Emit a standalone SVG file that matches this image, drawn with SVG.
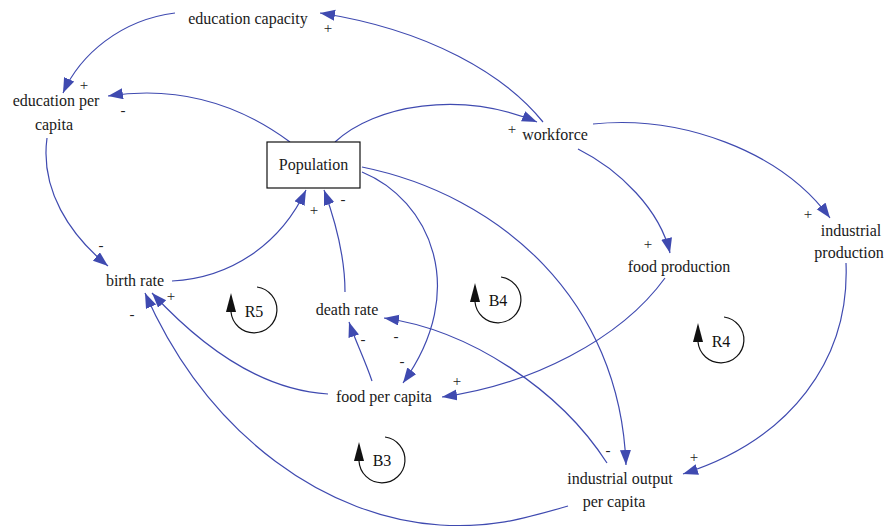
<svg xmlns="http://www.w3.org/2000/svg" width="896" height="526" viewBox="0 0 896 526">
  <defs>
    <marker id="arrow" markerUnits="userSpaceOnUse" markerWidth="16" markerHeight="12" refX="15" refY="5.5" orient="auto">
      <path d="M0,0 L15,5.5 L0,11 z" fill="#3f4ab0"/>
    </marker>
  </defs>
  <rect width="896" height="526" fill="#ffffff"/>

  <!-- causal links -->
  <g id="connectors" fill="none" stroke="#3f4ab0" stroke-width="1.2" marker-end="url(#arrow)">
    <path d="M543,122 C505,75 430,30 320,13"/>
    <path d="M175,13 C120,20 80,55 63,93"/>
    <path d="M290,142 C240,105 180,85 108,96"/>
    <path d="M335,142 C375,105 460,90 537,122"/>
    <path d="M47,138 C40,190 70,235 108,266"/>
    <path d="M172,281 C230,278 280,245 306,190"/>
    <path d="M345,292 C345,255 335,220 324,190"/>
    <path d="M362,172 C430,200 470,290 403,383"/>
    <path d="M362,167 C500,195 620,300 626,465"/>
    <path d="M607,463 C560,390 470,330 384,318"/>
    <path d="M372,381 C365,360 355,340 349,322"/>
    <path d="M328,394 C260,390 200,345 152,293"/>
    <path d="M568,506 C520,520 490,528 440,525 C330,518 210,440 145,293"/>
    <path d="M578,149 C620,170 660,210 670,253"/>
    <path d="M593,124 C680,115 780,150 830,218"/>
    <path d="M665,278 C620,340 530,385 442,397"/>
    <path d="M846,263 C850,360 790,440 683,474"/>
  </g>

  <!-- polarity signs -->
  <g id="signs" font-family="Liberation Serif, serif" font-size="15px" fill="#222222" text-anchor="middle">
    <text x="328" y="33">+</text>
    <text x="84" y="90">+</text>
    <text x="123" y="115">-</text>
    <text x="512" y="134">+</text>
    <text x="101" y="250">-</text>
    <text x="314" y="215">+</text>
    <text x="343" y="204">-</text>
    <text x="402" y="366">-</text>
    <text x="608" y="455">-</text>
    <text x="396" y="341">-</text>
    <text x="363" y="344">-</text>
    <text x="171" y="301">+</text>
    <text x="132" y="319">-</text>
    <text x="648" y="249">+</text>
    <text x="808" y="219">+</text>
    <text x="457" y="386">+</text>
    <text x="694" y="462">+</text>
  </g>

  <!-- variables -->
  <g id="nodes" font-family="Liberation Serif, serif" font-size="16px" fill="#1a1a1a" text-anchor="middle">
    <g id="education-capacity"><text x="248" y="24">education capacity</text></g>
    <g id="education-per-capita">
      <text x="56" y="106">education per</text>
      <text x="54" y="130">capita</text>
    </g>
    <g id="population">
      <rect x="267" y="142" width="93" height="46" fill="#ffffff" stroke="#111111" stroke-width="1.2"/>
      <text x="313.5" y="170">Population</text>
    </g>
    <g id="workforce"><text x="555" y="140">workforce</text></g>
    <g id="birth-rate"><text x="135" y="286">birth rate</text></g>
    <g id="death-rate"><text x="347" y="315">death rate</text></g>
    <g id="food-production"><text x="679" y="272">food production</text></g>
    <g id="industrial-production">
      <text x="851" y="236">industrial</text>
      <text x="849" y="258">production</text>
    </g>
    <g id="food-per-capita"><text x="384" y="402">food per capita</text></g>
    <g id="industrial-output-per-capita">
      <text x="620" y="484">industrial output</text>
      <text x="614" y="507">per capita</text>
    </g>
  </g>

  <!-- loop markers -->
  <g id="loops" font-family="Liberation Serif, serif" font-size="16px" fill="#111111" text-anchor="middle">
    <g id="loop-R5">
      <path d="M257,287 A23,23 0 1 1 231,312" fill="none" stroke="#111111" stroke-width="1.2"/>
      <polygon points="231,293 226,312 236,312"/>
      <text x="254" y="317">R5</text>
    </g>
    <g id="loop-B4">
      <path d="M501,277 A23,23 0 1 1 475,302" fill="none" stroke="#111111" stroke-width="1.2"/>
      <polygon points="475,283 470,302 480,302"/>
      <text x="498" y="306">B4</text>
    </g>
    <g id="loop-R4">
      <path d="M724,317 A23,23 0 1 1 698,342" fill="none" stroke="#111111" stroke-width="1.2"/>
      <polygon points="698,323 693,342 703,342"/>
      <text x="721" y="347">R4</text>
    </g>
    <g id="loop-B3">
      <path d="M385,437 A23,23 0 1 1 359,461" fill="none" stroke="#111111" stroke-width="1.2"/>
      <polygon points="359,442 354,461 364,461"/>
      <text x="382" y="466">B3</text>
    </g>
  </g>
</svg>
